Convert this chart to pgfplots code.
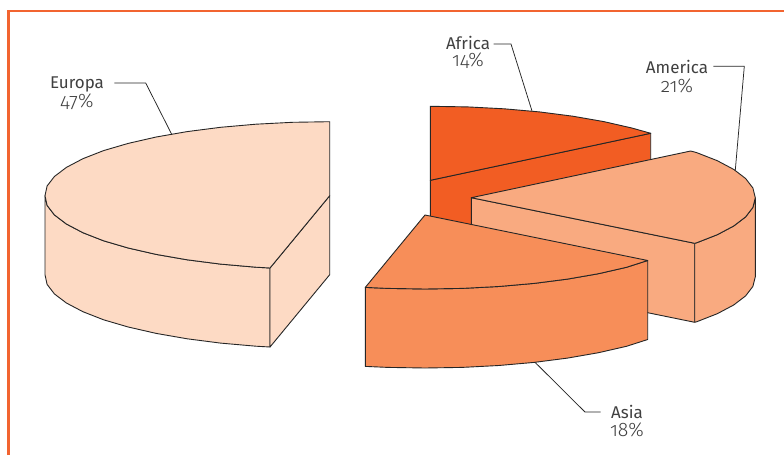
\documentclass[border=0pt]{standalone}
\usepackage{pgfplots}
\pgfplotsset{compat=1.18}
\usepackage{fontspec}
\setmainfont[Numbers=OldStyle]{Fira Sans}
\newfontfamily\sharefont[Numbers=OldStyle]{Fira Sans Light}
\definecolor{frameorange}{HTML}{F26430}
\definecolor{outline}{HTML}{262626}
\definecolor{labelgrey}{HTML}{404040}
\definecolor{europa}{HTML}{FDDAC4}
\definecolor{america}{HTML}{F9AA80}
\definecolor{asia}{HTML}{F78E59}
\definecolor{africa}{HTML}{F25D23}
\pgfplotsset{
  slice/.style={draw=outline, line width=0.9pt, line join=round, fill=#1},
  leader/.style={draw=outline, line width=0.75pt, no markers, fill=none},
}
\newcommand{\slicelabel}[4]{%
  \node[inner sep=0pt, text=labelgrey, font=\fontsize{17}{20}\selectfont, anchor=base] at (axis cs:#1) {#3};
  \node[inner sep=0pt, text=labelgrey, font=\sharefont\fontsize{19.5}{22}\selectfont, anchor=base] at (axis cs:#2) {#4};}
\begin{document}
\begin{tikzpicture}
\begin{axis}[
  scale only axis, width=784pt, height=455pt,
  xmin=0, xmax=784, ymin=0, ymax=455, y dir=reverse,
  hide axis,
]
% white sheet behind the chart
\addplot[fill=white, draw=none] coordinates {(0,0) (784,0) (784,455) (0,455)} --cycle;
% outer frame
\addplot[draw=frameorange, line width=2.6pt, no markers] coordinates {(8.5,455) (8.5,11) (784,11)};

% Europa 47 %: curved wall, cut face, top
\addplot[slice=europa] coordinates {
  (45,195.7) (47.1,205.4) (54.4,214.9) (66.4,224) (82.9,232.7) (103.6,240.8) (128.2,248) (156.2,254.4)
  (187.2,259.8) (220.6,264.1) (255.9,267.2) (270,268)
  (270,347) (255.9,346.2) (220.6,343.1) (187.2,338.8) (156.2,333.4) (128.2,327) (103.6,319.8)
  (82.9,311.7) (66.4,303) (54.4,293.9) (47.1,284.4) (45,274.7)} --cycle;
\addplot[slice=europa] coordinates {(270,268) (329.7,195.7) (329.7,274.7) (270,347)} --cycle;
\addplot[slice=europa] coordinates {
  (329.7,121.7) (292.5,122.3) (255.9,124.2) (220.6,127.3) (187.2,131.6) (156.2,137) (128.2,143.4)
  (103.6,150.6) (82.9,158.7) (66.4,167.4) (54.4,176.5) (47.1,186) (45,195.7) (47.1,205.4) (54.4,214.9)
  (66.4,224) (82.9,232.7) (103.6,240.8) (128.2,248) (156.2,254.4) (187.2,259.8) (220.6,264.1)
  (255.9,267.2) (270,268) (329.7,195.7)} --cycle;

% Africa 14 %: cut face, top
\addplot[slice=africa] coordinates {(430.3,180.3) (650.7,133.3) (650.7,212.3) (430.3,259.3)} --cycle;
\addplot[slice=africa] coordinates {
  (430.3,106.3) (467.5,106.9) (504.1,108.8) (539.4,111.9) (572.8,116.2) (603.8,121.6) (631.8,128)
  (650.7,133.3) (430.3,180.3)} --cycle;

% America 21 %: cut face, curved wall, top
\addplot[slice=america] coordinates {(471.3,197.7) (694.7,243.3) (694.7,322.3) (471.3,276.7)} --cycle;
\addplot[slice=america] coordinates {
  (755.3,197.7) (752.9,207.4) (745.6,216.9) (733.7,226) (717.3,234.7) (696.6,242.8) (694.7,243.3)
  (694.7,322.3) (696.6,321.8) (717.3,313.7) (733.7,305) (745.6,295.9) (752.9,286.4) (755.3,276.7)} --cycle;
\addplot[slice=america] coordinates {
  (471.3,197.7) (690.7,151) (696.6,152.6) (717.3,160.7) (733.7,169.4) (745.6,178.5) (752.9,188)
  (755.3,197.7) (752.9,207.4) (745.6,216.9) (733.7,226) (717.3,234.7) (696.6,242.8) (694.7,243.3)} --cycle;

% Asia 18 %: curved wall, top
\addplot[slice=asia] coordinates {
  (647.7,260.5) (626.5,267.3) (598.5,273.7) (567.5,279.1) (534.1,283.4) (498.8,286.5) (462.2,288.4)
  (425,289) (387.8,288.4) (365.3,287.4)
  (365.3,366.4) (387.8,367.4) (425,368) (462.2,367.4) (498.8,365.5) (534.1,362.4) (567.5,358.1)
  (598.5,352.7) (626.5,346.3) (647.7,339.5)} --cycle;
\addplot[slice=asia] coordinates {
  (425,215) (647.7,260.5) (626.5,267.3) (598.5,273.7) (567.5,279.1) (534.1,283.4) (498.8,286.5)
  (462.2,288.4) (425,289) (387.8,288.4) (365.3,287.4)} --cycle;

% leader lines
\addplot[leader] coordinates {(114.3,83) (145.7,83) (171.7,134.3)};
\addplot[leader] coordinates {(493.7,44) (511,44) (532,111)};
\addplot[leader] coordinates {(713.3,66.3) (744.3,66.3) (735.3,170)};
\addplot[leader] coordinates {(535,362.3) (585,412) (600.7,412)};

% labels: name, then share
\slicelabel{77,88}{77,107}{Europa}{47\%}
\slicelabel{468,49}{468,66}{Africa}{14\%}
\slicelabel{677,73}{677,92}{America}{21\%}
\slicelabel{627,418}{627,436}{Asia}{18\%}
\end{axis}
\end{tikzpicture}
\end{document}
